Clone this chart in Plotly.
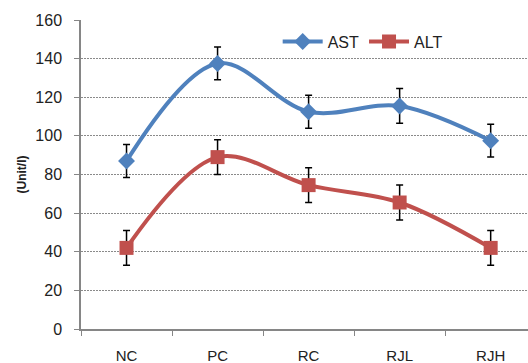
import plotly.graph_objects as go

categories = ["NC", "PC", "RC", "RJL", "RJH"]
ast = [87, 137.5, 112.5, 115.5, 97.5]
ast_err = [8.5, 8.5, 8.5, 9, 8.5]
alt = [42, 89, 74.5, 65.5, 42]
alt_err = [9, 9, 9, 9, 9]

fig = go.Figure()
fig.add_trace(go.Scatter(
    x=categories, y=ast, name="AST", mode="lines+markers",
    line=dict(color="#4F81BD", width=4, shape="spline", smoothing=1),
    marker=dict(symbol="diamond", size=13, color="#4F81BD"),
    error_y=dict(type="data", array=ast_err, color="black", thickness=1.5, width=3.5),
))
fig.add_trace(go.Scatter(
    x=categories, y=alt, name="ALT", mode="lines+markers",
    line=dict(color="#C0504D", width=4, shape="spline", smoothing=1),
    marker=dict(symbol="square", size=14, color="#C0504D"),
    error_y=dict(type="data", array=alt_err, color="black", thickness=1.5, width=3.5),
))

fig.update_layout(
    width=528, height=363,
    margin=dict(l=81, r=0, t=20, b=34),
    paper_bgcolor="white", plot_bgcolor="white",
    font=dict(family="Liberation Sans, Arial, sans-serif", size=14, color="#333333"),
    showlegend=True,
    legend=dict(orientation="h", x=0.44, y=0.93, xanchor="left", yanchor="middle",
                font=dict(size=16, color="#222222"), bgcolor="rgba(0,0,0,0)",
                itemwidth=40, tracegroupgap=0),
    xaxis=dict(
        range=[-0.5, 4.41], showgrid=False, showline=True, linecolor="#868686", linewidth=1.5,
        ticks="outside", tickson="boundaries", ticklen=5, tickcolor="#868686",
        tickfont=dict(size=15, color="#222222"), ticklabelstandoff=12,
    ),
    yaxis=dict(
        range=[0, 160], dtick=20, showline=True, linecolor="#868686", linewidth=1.5,
        ticks="outside", ticklen=5, tickcolor="#868686",
        showgrid=True, gridcolor="#8a8a8a", griddash="1.5px,1.5px", gridwidth=1.2,
        zeroline=False, ticklabelstandoff=9,
        tickfont=dict(size=16, color="#222222"),
        title=dict(text="<b>(Unit/l)</b>", font=dict(size=12, color="#222222"), standoff=6),
    ),
)

fig.write_html("out.html")
